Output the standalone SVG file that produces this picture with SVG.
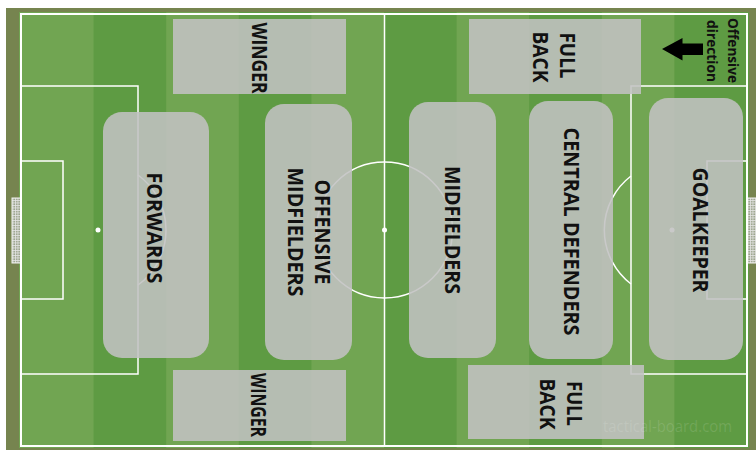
<svg xmlns="http://www.w3.org/2000/svg" width="756" height="450" viewBox="0 0 756 450">
  <defs>
    <pattern id="net" width="2.5" height="2.5" patternUnits="userSpaceOnUse">
      <rect width="2.5" height="2.5" fill="#9aa38c"/>
      <path d="M0 0.5H2.5M0.5 0V2.5" stroke="#e6e6e6" stroke-width="0.8"/>
    </pattern>
    <style>
      .light { fill: #71a552; }
      .dark { fill: #5e9b43; }
      .line { fill: none; stroke: #ffffff; stroke-width: 1.5; }
      .border { fill: none; stroke: #ffffff; stroke-width: 2; }
      .zone { fill: #c2c2c2; fill-opacity: 0.88; }
      .lbl { font-family: "Open Sans", "Liberation Sans", sans-serif; font-weight: 700; font-size: 21px; fill: #111111; text-anchor: middle; }
      .small { font-family: "Open Sans", "Liberation Sans", sans-serif; font-weight: 700; font-size: 13.5px; fill: #111111; text-anchor: middle; }
      .wm { font-family: "Open Sans", "Liberation Sans", sans-serif; font-size: 16px; fill: #ffffff; fill-opacity: 0.13; text-anchor: middle; }
    </style>
  </defs>

  <!-- background -->
  <rect x="6" y="8" width="750" height="442" fill="#76844f"/>

  <!-- pitch stripes -->
  <g id="pitch">
    <rect class="light" x="19" y="12" width="730" height="436"/>
    <rect class="dark" x="93.6" y="12" width="72.6" height="436"/>
    <rect class="dark" x="238.8" y="12" width="72.6" height="436"/>
    <rect class="dark" x="384" y="12" width="72.6" height="436"/>
    <rect class="dark" x="529.2" y="12" width="72.6" height="436"/>
    <rect class="dark" x="674.4" y="12" width="74.6" height="436"/>

    <!-- goals -->
    <rect x="12" y="198" width="9" height="65" fill="url(#net)" stroke="#f2f2f2" stroke-width="1"/>
    <rect x="747" y="198" width="12" height="65" fill="url(#net)" stroke="#f2f2f2" stroke-width="1"/>

    <!-- markings -->
    <rect class="border" x="21" y="14" width="726" height="432"/>
    <line class="line" x1="384.5" y1="14" x2="384.5" y2="446"/>
    <circle class="line" cx="384.5" cy="230" r="68"/>
    <circle cx="384.5" cy="230" r="2.5" fill="#ffffff"/>
    <rect class="line" x="21" y="86" width="117" height="288"/>
    <rect class="line" x="21" y="161" width="42" height="138"/>
    <circle cx="98" cy="230" r="2.5" fill="#ffffff"/>
    <path class="line" d="M138 175 A68 68 0 0 1 138 285"/>
    <rect class="line" x="631" y="86" width="116" height="288"/>
    <rect class="line" x="707" y="161" width="40" height="138"/>
    <circle cx="672" cy="230" r="2.5" fill="#ffffff"/>
    <path class="line" d="M631 176 A68 68 0 0 0 631 284"/>
  </g>

  <!-- zones -->
  <g id="winger-top">
    <rect class="zone" x="173" y="19" width="173" height="75"/>
    <text class="lbl" transform="translate(259.5,58) rotate(90)" x="0" y="7.5" textLength="71" lengthAdjust="spacingAndGlyphs">WINGER</text>
  </g>
  <g id="winger-bottom">
    <rect class="zone" x="173" y="370" width="173" height="71"/>
    <text class="lbl" transform="translate(258.5,405) rotate(90)" x="0" y="7.5" textLength="64" lengthAdjust="spacingAndGlyphs">WINGER</text>
  </g>
  <g id="fullback-top">
    <rect class="zone" x="469" y="19" width="172" height="75"/>
    <text class="lbl" transform="translate(567,55.5) rotate(90)" x="0" y="7.5" textLength="46" lengthAdjust="spacingAndGlyphs">FULL</text>
    <text class="lbl" transform="translate(540,57) rotate(90)" x="0" y="7.5" textLength="51" lengthAdjust="spacingAndGlyphs">BACK</text>
  </g>
  <g id="fullback-bottom">
    <rect class="zone" x="468" y="365" width="176" height="74"/>
    <text class="lbl" transform="translate(574,403.5) rotate(90)" x="0" y="7.5" textLength="45" lengthAdjust="spacingAndGlyphs">FULL</text>
    <text class="lbl" transform="translate(547,404) rotate(90)" x="0" y="7.5" textLength="51" lengthAdjust="spacingAndGlyphs">BACK</text>
  </g>
  <g id="forwards">
    <rect class="zone" x="103" y="112" width="106" height="246" rx="19"/>
    <text class="lbl" transform="translate(154,228) rotate(90)" x="0" y="7.5" textLength="111" lengthAdjust="spacingAndGlyphs">FORWARDS</text>
  </g>
  <g id="offensive-midfielders">
    <rect class="zone" x="265" y="104" width="87" height="256" rx="19"/>
    <text class="lbl" transform="translate(322,232) rotate(90)" x="0" y="7.5" textLength="105" lengthAdjust="spacingAndGlyphs">OFFENSIVE</text>
    <text class="lbl" transform="translate(295,232) rotate(90)" x="0" y="7.5" textLength="129" lengthAdjust="spacingAndGlyphs">MIDFIELDERS</text>
  </g>
  <g id="midfielders">
    <rect class="zone" x="409" y="102" width="87" height="256" rx="19"/>
    <text class="lbl" transform="translate(452,230) rotate(90)" x="0" y="7.5" textLength="128" lengthAdjust="spacingAndGlyphs">MIDFIELDERS</text>
  </g>
  <g id="central-defenders">
    <rect class="zone" x="529" y="101" width="84" height="258" rx="19"/>
    <text class="lbl" transform="translate(571.5,231.5) rotate(90)" x="0" y="7.5" textLength="208" lengthAdjust="spacingAndGlyphs">CENTRAL DEFENDERS</text>
  </g>
  <g id="goalkeeper">
    <rect class="zone" x="649" y="98" width="94" height="262" rx="19"/>
    <text class="lbl" transform="translate(700,230) rotate(90)" x="0" y="7.5" textLength="125" lengthAdjust="spacingAndGlyphs">GOALKEEPER</text>
  </g>

  <!-- offensive direction legend -->
  <g id="offensive-direction">
    <polygon points="662,49 682.5,38 682.5,43.5 703,43.5 703,55 682.5,55 682.5,60.5" fill="#000000"/>
    <text class="small" transform="translate(728,50.5) rotate(90)" x="0" y="0" textLength="65" lengthAdjust="spacingAndGlyphs">Offensive</text>
    <text class="small" transform="translate(707,51) rotate(90)" x="0" y="0" textLength="62" lengthAdjust="spacingAndGlyphs">direction</text>
  </g>

  <g id="connectors"/>

  <!-- watermark -->
  <text class="wm" x="667.5" y="432" textLength="129" lengthAdjust="spacingAndGlyphs">tactical-board.com</text>
</svg>
